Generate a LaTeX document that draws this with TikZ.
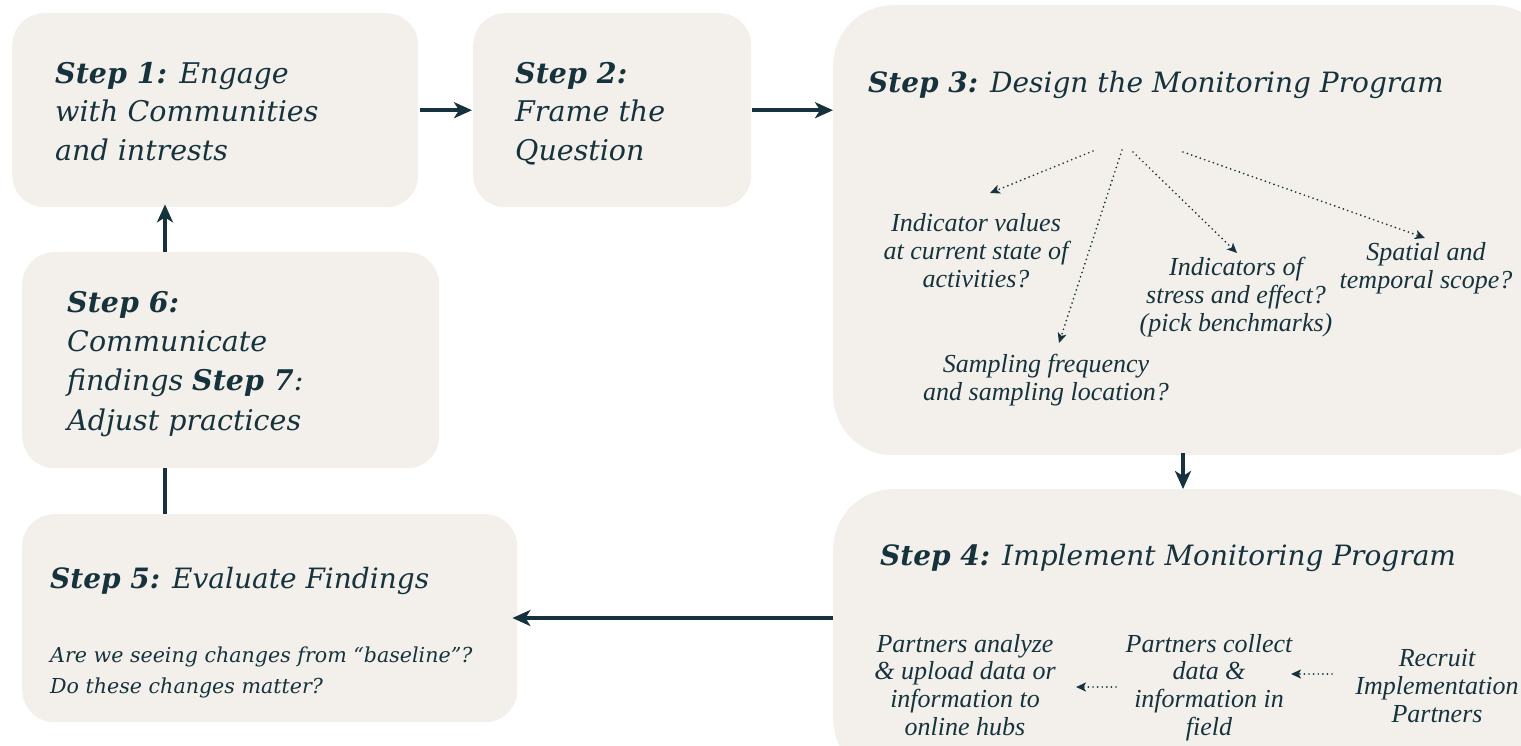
\documentclass[tikz,border=0pt]{standalone}
\usepackage{fontspec}
\setmainfont{DejaVu Serif}
\newfontfamily\lblfont{Liberation Serif}
\usetikzlibrary{arrows.meta,calc}
\definecolor{ink}{HTML}{16333D}
\definecolor{boxfill}{HTML}{F3F0EB}
\begin{document}
\begin{tikzpicture}[x=1pt,y=-1pt,
  box/.style={fill=boxfill, draw=none, rounded corners=32pt, anchor=north west, inner sep=0pt},
  bigbox/.style={box, rounded corners=60pt},
  steptext/.style={font=\fontsize{28.5}{38.5}\selectfont\itshape, text=ink, inner sep=0pt, align=left, anchor=base west},
  titletext/.style={font=\fontsize{28}{36}\selectfont\itshape, text=ink, inner sep=0pt, anchor=base west},
  subtext/.style={font=\fontsize{20.6}{31}\selectfont\itshape, text=ink, inner sep=0pt, align=left, anchor=base west},
  lbl/.style={font=\lblfont\itshape\fontsize{26}{27.6}\selectfont, text=ink, inner sep=0pt, align=center, anchor=base},
  flow/.style={draw=ink, line width=3.6pt, -{Stealth[length=18pt,width=16pt,inset=5pt]}},
  plainflow/.style={draw=ink, line width=3.6pt},
  dotflow/.style={draw=ink, line width=1.9pt, dash pattern=on 0pt off 4.6pt, line cap=round, -{Stealth[length=10pt,width=9pt,inset=2.5pt]}}
]
\useasboundingbox (0,0) rectangle (1521,745);

% boxes
\node[box, minimum width=406pt, minimum height=194pt] (b1) at (12,13) {};
\node[box, minimum width=278pt, minimum height=194pt] (b2) at (473,13) {};
\node[bigbox, minimum width=720pt, minimum height=450pt] (b3) at (833,5) {};
\node[bigbox, minimum width=720pt, minimum height=290pt] (b4) at (833,489) {};
\node[box, minimum width=417pt, minimum height=216pt] (b6) at (22,252) {};
\node[box, minimum width=495pt, minimum height=208pt] (b5) at (22,514) {};

% texts (anchor base = baseline of the last line)
\node[steptext] (t1) at (55,160) {\textbf{Step 1:} Engage\\with Communities\\and intrests};
\node[steptext] (t2) at (515,160) {\textbf{Step 2:}\\Frame the\\Question};
\node[steptext, font=\fontsize{28.5}{39.3}\selectfont\itshape] (t6) at (67,430) {\textbf{Step 6:}\\Communicate\\findings \textbf{Step 7}:\\Adjust practices};
\node[titletext] (t3) at (868,92) {\textbf{Step 3:} Design the Monitoring Program};
\node[titletext] (t4) at (880,565) {\textbf{Step 4:} Implement Monitoring Program};
\node[titletext] (t5) at (50,588) {\textbf{Step 5:} Evaluate Findings};
\node[subtext] (s5) at (50,693) {Are we seeing changes from “baseline”?\\Do these changes matter?};

% step 3 labels
\node[lbl] (l1) at (976,287) {Indicator values\\at current state of\\activities?};
\node[lbl] (l2) at (1046,400) {Sampling frequency\\and sampling location?};
\node[lbl] (l3) at (1236,331) {Indicators of\\stress and effect?\\(pick benchmarks)};
\node[lbl] (l4) at (1426,288) {Spatial and\\temporal scope?};

% step 4 labels
\node[lbl] (m1) at (965,735) {Partners analyze\\\& upload data or\\information to\\online hubs};
\node[lbl] (m2) at (1209,735) {Partners collect\\data \&\\information in\\field};
\node[lbl] (m3) at (1437,722) {Recruit\\Implementation\\Partners};

% main connectors
\coordinate (c34) at (1183,0);
\coordinate (c45) at (0,618);
\coordinate (c16) at (165,0);
\draw[flow] ([xshift=2pt]b1.east) -- ([xshift=-1pt]b2.west);
\draw[flow] ([xshift=1pt]b2.east) -- (b2.east -| b3.west);
\draw[flow] ([yshift=2pt]b3.south -| c34) -- (b4.north -| c34);
\draw[flow] (b4.west |- c45) -- ([xshift=-5pt]b5.east |- c45);
\draw[plainflow] (b5.north -| c16) -- (b6.south -| c16);
\draw[flow] (b6.north -| c16) -- ([yshift=3pt]b1.south -| c16);

% dotted connectors in step 3
\coordinate (d1s) at (1093,151);
\coordinate (d1e) at (990,193);
\coordinate (d2s) at (1122,150);
\coordinate (d2e) at (1059,343);
\coordinate (d3s) at (1133,152);
\coordinate (d3e) at (1237,253);
\coordinate (d4s) at (1183,152);
\coordinate (d4e) at (1425,238);
\draw[dotflow] (d1s) -- (d1e);
\draw[dotflow] (d2s) -- (d2e);
\draw[dotflow] (d3s) -- (d3e);
\draw[dotflow] (d4s) -- (d4e);

% dotted connectors in step 4
\coordinate (e1s) at (1116,687);
\coordinate (e1e) at (1076,687);
\coordinate (e2s) at (1332,674);
\coordinate (e2e) at (1291,674);
\draw[dotflow] (e1s) -- (e1e);
\draw[dotflow] (e2s) -- (e2e);
\end{tikzpicture}
\end{document}
